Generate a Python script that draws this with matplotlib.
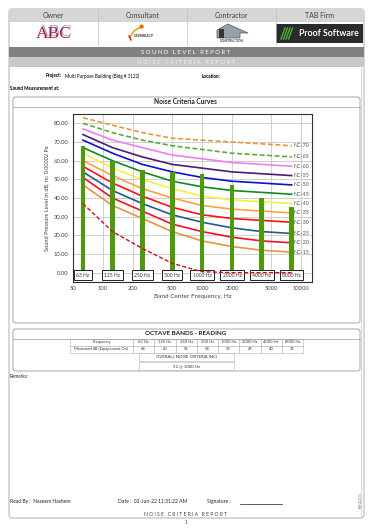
import matplotlib
matplotlib.use("Agg")
import matplotlib.pyplot as plt
from matplotlib.patches import Rectangle, FancyBboxPatch, Polygon

plt.rcParams['font.family'] = ['Lato', 'DejaVu Sans']

# 데이터
freqs = [63, 125, 250, 500, 1000, 2000, 4000, 8000]
freq_labels = ["63 Hz", "125 Hz", "250 Hz", "500 Hz", "1000 Hz", "2000 Hz", "4000 Hz", "8000 Hz"]
measured = [68, 60, 55, 54, 53, 47, 40, 35]

nc_names = ["NC-70", "NC-65", "NC-60", "NC-55", "NC-50", "NC-45",
            "NC-40", "NC-35", "NC-30", "NC-25", "NC-20", "NC-15"]
nc_values = [
    [83, 79, 75, 72, 71, 70, 69, 68],
    [80, 75, 71, 68, 66, 64, 63, 62],
    [77, 71, 67, 63, 61, 59, 58, 57],
    [74, 67, 62, 58, 56, 54, 53, 52],
    [71, 64, 58, 54, 51, 49, 48, 47],
    [67, 60, 54, 49, 46, 44, 43, 42],
    [64, 56, 50, 45, 41, 39, 38, 37],
    [60, 52, 45, 40, 36, 34, 33, 32],
    [57, 48, 41, 35, 31, 29, 28, 27],
    [54, 44, 37, 31, 27, 24, 22, 21],
    [51, 40, 33, 26, 22, 19, 17, 16],
    [47, 36, 29, 22, 17, 14, 12, 11],
]
nc_colors = ["#e8963c", "#5fa83c", "#f07cf0", "#4b1a7a", "#1010d0", "#118a1e",
             "#f5f03c", "#ffa040", "#ff1010", "#235a8c", "#f0102a", "#e8943a"]
nc_styles = ["--", "--", "-", "-", "-", "-", "-", "-", "-", "-", "-", "-"]
lower_curve = [37, 22, 13, 5, 0.5, 0, 0, 0]

table_header = ["Frequency"] + freq_labels
table_row = ["Measured dB (Equipement On)"] + [str(v) for v in measured]
overall_nc = "52 @ 1000 Hz"

W, H = 375, 532
fig = plt.figure(figsize=(W / 100, H / 100), dpi=100)
bg = fig.add_axes([0, 0, 1, 1])
bg.set_xlim(0, W)
bg.set_ylim(H, 0)
bg.axis("off")

# 페이지 테두리
bg.add_patch(FancyBboxPatch((9, 9), 355, 509, boxstyle="round,pad=0,rounding_size=3",
                            fc="white", ec="#b8b8b8", lw=0.8))
bg.plot([361, 361], [66, 516], color="#d0d0d0", lw=0.6)

# 헤더
cols = [9, 98, 187, 276, 364]
heads = ["Owner", "Consultant", "Contractor", "TAB Firm"]
bg.add_patch(Rectangle((9, 9), 355, 12, fc="#d6d6d6", ec="none"))
for i, h in enumerate(heads):
    bg.text((cols[i] + cols[i + 1]) / 2, 15.5, h, ha="center", va="center",
            fontsize=5, color="#404040")
    if i > 0:
        bg.plot([cols[i], cols[i]], [9, 45], color="#c0c0c0", lw=0.5)
bg.plot([9, 364], [21, 21], color="#c0c0c0", lw=0.5)

# 로고
bg.text(54, 33.5, "ABC", ha="center", va="center", fontsize=12.5,
        family="Liberation Serif", color="#c0182a")
bg.text(54.6, 32.5, "ABC", ha="center", va="center", fontsize=12.5,
        family="Liberation Serif", color="#2a3f9a", alpha=0.45)
bg.plot([130, 134, 139, 143], [37, 31, 28, 27], color="#f0a020", lw=1.2)
bg.plot([141], [25.5], "o", color="#e07010", ms=2)
bg.plot([129, 131], [36, 40], color="#d01010", lw=1)
bg.text(134, 36, "CONSULT", ha="left", va="center", fontsize=3.2,
        fontweight="bold", color="#202020")
bg.add_patch(Polygon([[217, 38], [217, 30], [228, 24], [248, 33], [240, 33], [240, 38]],
                     closed=True, fc="#9aa0a8", ec="#505860", lw=0.5))
bg.add_patch(Rectangle((219, 29), 5, 9, fc="#303840", ec="none"))
bg.text(232, 41.5, "CONSTRUCTION", ha="center", va="center", fontsize=2.2,
        fontweight="bold", color="#303030")
bg.add_patch(Rectangle((276, 24), 87, 19, fc="#2b2b2b", ec="none"))
for k in range(4):
    bg.plot([281 + k * 2.5, 285 + k * 2.5], [39, 28], color="#4caf32", lw=1)
bg.text(329, 33.5, "Proof Software", ha="center", va="center", fontsize=6.3,
        fontweight="bold", color="white")

# 제목 바
bg.add_patch(Rectangle((9, 47), 355, 9.5, fc="#808080", ec="none"))
bg.text(186, 52, " ".join("SOUND LEVEL REPORT"), ha="center", va="center",
        fontsize=4.3, color="white")
bg.add_patch(Rectangle((9, 57), 355, 9.5, fc="#c8c8c8", ec="none"))
bg.text(186, 62, " ".join("NOISE CRITERIA REPORT"), ha="center", va="center",
        fontsize=4.3, color="#eeeeee")

bg.text(62, 76, "Project:", ha="right", va="center", fontsize=3.3, fontweight="bold")
bg.text(65, 76, "Multi Purpose Building (Bldg # 1122)", ha="left", va="center", fontsize=3.3)
bg.text(202, 76, "Location:", ha="left", va="center", fontsize=3.3, fontweight="bold")
bg.text(10, 88, "Sound Measurement at:", ha="left", va="center", fontsize=3.3, fontweight="bold")

# 차트 패널
bg.add_patch(FancyBboxPatch((13, 97), 347, 226, boxstyle="round,pad=0,rounding_size=2.5",
                            fc="white", ec="#9a9a9a", lw=0.6))
bg.plot([13, 360], [107, 107], color="#9a9a9a", lw=0.5)
bg.text(185, 101.5, "Noise Criteria Curves", ha="center", va="center",
        fontsize=4.8, fontweight="bold", color="#202020")

ax = fig.add_axes([73 / W, (H - 282) / H, 239 / W, 168 / H])
for name, vals, c, ls in zip(nc_names, nc_values, nc_colors, nc_styles):
    ax.plot(freqs, vals, color=c, ls=ls, lw=1.2, dashes=(3, 1.5) if ls == "--" else (None, None),
            zorder=2)
    ax.text(8000 * 1.03, vals[-1], name, ha="left", va="center", fontsize=3.9,
            color="#505050", zorder=6)
ax.plot(freqs, lower_curve, color="#cc1020", lw=1.0, dashes=(3, 1.5), zorder=5)
ax.bar(freqs, measured, width=[f * 0.11 for f in freqs], color="#4f9a0c", zorder=3)
for f, lab in zip(freqs, freq_labels):
    ax.text(f, -1.3, lab, ha="center", va="center", fontsize=3.6, color="#303030",
            bbox=dict(boxstyle="square,pad=0.45", fc="white", ec="#202020", lw=0.7),
            zorder=4)
ax.set_xscale("log")
ax.set_xlim(50, 12800)
ax.set_ylim(-5, 85)
ax.set_xticks([50, 100, 200, 500, 1000, 2000, 5000, 10000])
ax.set_xticklabels(["50", "100", "200", "500", "1000", "2000", "5000", "10000"])
ax.xaxis.set_minor_locator(matplotlib.ticker.NullLocator())
ax.set_yticks(range(0, 81, 10))
ax.set_yticklabels([f"{v:.2f}" for v in range(0, 81, 10)])
ax.tick_params(labelsize=4.2, length=0, pad=3, colors="#404040")
ax.grid(True, color="#c8c8c8", lw=0.6)
ax.set_axisbelow(True)
for s in ax.spines.values():
    s.set_color("#303030")
    s.set_linewidth(0.8)
ax.set_xlabel("Band Center Frequency, Hz", fontsize=4.6, color="#404040", labelpad=2)
ax.set_ylabel("Sound Pressure Level in dB, re: 0.00002 Pa", fontsize=4.1, color="#404040",
              labelpad=3)

# 표 패널
bg.add_patch(FancyBboxPatch((13, 329), 347, 42, boxstyle="round,pad=0,rounding_size=2.5",
                            fc="white", ec="#9a9a9a", lw=0.6))
bg.plot([13, 360], [338.5, 338.5], color="#9a9a9a", lw=0.5)
bg.text(186, 333.8, "OCTAVE BANDS - READING", ha="center", va="center",
        fontsize=4.5, fontweight="bold", color="#202020")
x_edges = [70, 133] + [133 + 21.25 * (i + 1) for i in range(8)]
for r, row in enumerate([table_header, table_row]):
    y0 = 338.5 + r * 7
    for i, txt in enumerate(row):
        bg.add_patch(Rectangle((x_edges[i], y0), x_edges[i + 1] - x_edges[i], 7,
                               fc="white", ec="#b0b0b0", lw=0.4))
        bg.text((x_edges[i] + x_edges[i + 1]) / 2, y0 + 3.6, txt, ha="center", va="center",
                fontsize=2.9, color="#303030")
for j, txt in enumerate(["OVERALL NOISE CRITERIA (NC)", overall_nc]):
    y0 = 353 + j * 9
    bg.add_patch(Rectangle((139, y0), 95, 7.5, fc="white", ec="#b0b0b0", lw=0.4))
    bg.text(186.5, y0 + 3.9, txt, ha="center", va="center", fontsize=3.1, color="#303030")

bg.text(10, 377, "Remarks:", ha="left", va="center", fontsize=3.3, color="#202020")

# 하단
bg.text(10, 501.5, "Read By :  Naseem Hashem", ha="left", va="center", fontsize=3.6,
        color="#202020")
bg.text(118, 501.5, "Date :  02-Jun-22 11:31:22 AM", ha="left", va="center", fontsize=3.6,
        color="#202020")
bg.text(207, 501.5, "Signature :", ha="left", va="center", fontsize=3.6, color="#202020")
bg.plot([240, 282], [503.5, 503.5], color="#202020", lw=0.5)
bg.text(360.5, 500, "NCR-2022-01", ha="center", va="center", fontsize=1.8,
        rotation=90, color="#606060")
bg.text(186, 514, " ".join("NOISE CRITERIA REPORT"), ha="center", va="center",
        fontsize=3.6, color="#404040")
bg.text(186, 522, "1", ha="center", va="center", fontsize=3.6, color="#404040")

fig.savefig("out.png", dpi=100)
